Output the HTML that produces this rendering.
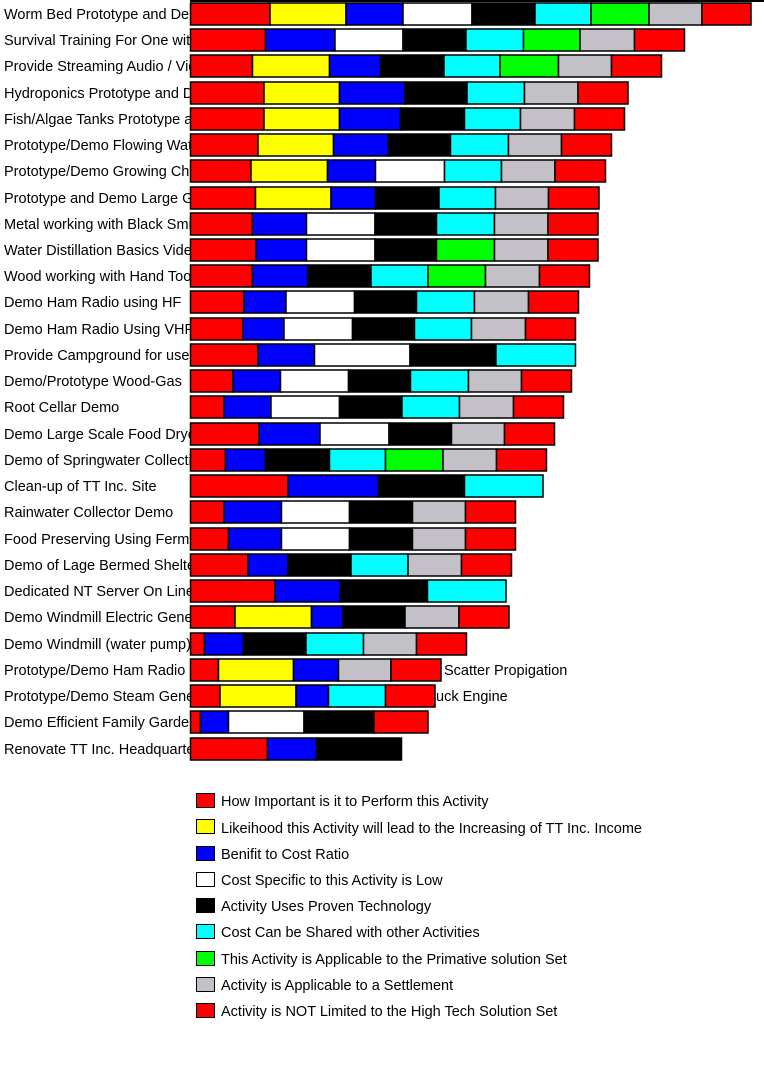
<!DOCTYPE html>
<html><head><meta charset="utf-8"><style>
html,body{margin:0;padding:0;background:#fff;}
svg{display:block;}
text{font-family:"Liberation Sans",Arial,sans-serif;font-size:14.5px;fill:#000;}
</style></head><body>
<svg width="764" height="1077" viewBox="0 0 764 1077" xmlns="http://www.w3.org/2000/svg">
<defs><clipPath id="lc"><rect x="0" y="0" width="192" height="770"/></clipPath></defs>
<rect x="190" y="0" width="574" height="2" fill="#000"/>
<g clip-path="url(#lc)">
<text x="4" y="19">Worm Bed Prototype and Demo</text>
<text x="4" y="45">Survival Training For One with</text>
<text x="4" y="71">Provide Streaming Audio / Video</text>
<text x="4" y="98">Hydroponics Prototype and Demo</text>
<text x="4" y="124">Fish/Algae Tanks Prototype and</text>
<text x="4" y="150">Prototype/Demo Flowing Water</text>
<text x="4" y="176">Prototype/Demo Growing Chamber</text>
<text x="4" y="203">Prototype and Demo Large Green</text>
<text x="4" y="229">Metal working with Black Smith</text>
<text x="4" y="255">Water Distillation Basics Video</text>
<text x="4" y="281">Wood working with Hand Tools</text>
<text x="4" y="307">Demo Ham Radio using HF</text>
<text x="4" y="334">Demo Ham Radio Using VHF</text>
<text x="4" y="360">Provide Campground for use</text>
<text x="4" y="386">Demo/Prototype Wood-Gas</text>
<text x="4" y="412">Root Cellar Demo</text>
<text x="4" y="439">Demo Large Scale Food Dryer</text>
<text x="4" y="465">Demo of Springwater Collection</text>
<text x="4" y="491">Clean-up of TT Inc. Site</text>
<text x="4" y="517">Rainwater Collector Demo</text>
<text x="4" y="544">Food Preserving Using Fermentation</text>
<text x="4" y="570">Demo of Lage Bermed Shelter</text>
<text x="4" y="596">Dedicated NT Server On Line</text>
<text x="4" y="622">Demo Windmill Electric Generator</text>
<text x="4" y="649">Demo Windmill (water pump)</text>
<text x="4" y="675">Prototype/Demo Ham Radio</text>
<text x="4" y="701">Prototype/Demo Steam Generator</text>
<text x="4" y="727">Demo Efficient Family Garden</text>
<text x="4" y="754">Renovate TT Inc. Headquarters</text>
</g>
<text x="444" y="675">Scatter Propigation</text>
<text x="436" y="701">uck Engine</text>
<g stroke="#000" stroke-width="1.5">
<g transform="translate(0,3)">
<rect x="190.5" y="0" width="79.5" height="22" fill="#f00"/><rect x="270" y="0" width="76" height="22" fill="#ff0"/><rect x="346" y="0" width="57" height="22" fill="#00f"/><rect x="403" y="0" width="69" height="22" fill="#fff"/><rect x="472" y="0" width="63" height="22" fill="#000"/><rect x="535" y="0" width="56" height="22" fill="#0ff"/><rect x="591" y="0" width="58" height="22" fill="#0f0"/><rect x="649" y="0" width="53" height="22" fill="#c4c0c8"/><rect x="702" y="0" width="49" height="22" fill="#f00"/></g>
<g transform="translate(0,29)">
<rect x="190.5" y="0" width="75" height="22" fill="#f00"/><rect x="265.5" y="0" width="69.5" height="22" fill="#00f"/><rect x="335" y="0" width="68" height="22" fill="#fff"/><rect x="403" y="0" width="63" height="22" fill="#000"/><rect x="466" y="0" width="57.5" height="22" fill="#0ff"/><rect x="523.5" y="0" width="56.5" height="22" fill="#0f0"/><rect x="580" y="0" width="54.5" height="22" fill="#c4c0c8"/><rect x="634.5" y="0" width="50" height="22" fill="#f00"/></g>
<g transform="translate(0,55)">
<rect x="190.5" y="0" width="62" height="22" fill="#f00"/><rect x="252.5" y="0" width="77" height="22" fill="#ff0"/><rect x="329.5" y="0" width="51" height="22" fill="#00f"/><rect x="380.5" y="0" width="63.5" height="22" fill="#000"/><rect x="444" y="0" width="56" height="22" fill="#0ff"/><rect x="500" y="0" width="58.5" height="22" fill="#0f0"/><rect x="558.5" y="0" width="53" height="22" fill="#c4c0c8"/><rect x="611.5" y="0" width="50" height="22" fill="#f00"/></g>
<g transform="translate(0,82)">
<rect x="190.5" y="0" width="73.5" height="22" fill="#f00"/><rect x="264" y="0" width="75.5" height="22" fill="#ff0"/><rect x="339.5" y="0" width="65.5" height="22" fill="#00f"/><rect x="405" y="0" width="62" height="22" fill="#000"/><rect x="467" y="0" width="57.5" height="22" fill="#0ff"/><rect x="524.5" y="0" width="53.5" height="22" fill="#c4c0c8"/><rect x="578" y="0" width="50" height="22" fill="#f00"/></g>
<g transform="translate(0,108)">
<rect x="190.5" y="0" width="73.5" height="22" fill="#f00"/><rect x="264" y="0" width="75.5" height="22" fill="#ff0"/><rect x="339.5" y="0" width="61" height="22" fill="#00f"/><rect x="400.5" y="0" width="64" height="22" fill="#000"/><rect x="464.5" y="0" width="56" height="22" fill="#0ff"/><rect x="520.5" y="0" width="54" height="22" fill="#c4c0c8"/><rect x="574.5" y="0" width="50" height="22" fill="#f00"/></g>
<g transform="translate(0,134)">
<rect x="190.5" y="0" width="67.5" height="22" fill="#f00"/><rect x="258" y="0" width="75.5" height="22" fill="#ff0"/><rect x="333.5" y="0" width="55" height="22" fill="#00f"/><rect x="388.5" y="0" width="62" height="22" fill="#000"/><rect x="450.5" y="0" width="58" height="22" fill="#0ff"/><rect x="508.5" y="0" width="53" height="22" fill="#c4c0c8"/><rect x="561.5" y="0" width="50" height="22" fill="#f00"/></g>
<g transform="translate(0,160)">
<rect x="190.5" y="0" width="60.5" height="22" fill="#f00"/><rect x="251" y="0" width="76.5" height="22" fill="#ff0"/><rect x="327.5" y="0" width="48" height="22" fill="#00f"/><rect x="375.5" y="0" width="69" height="22" fill="#fff"/><rect x="444.5" y="0" width="57" height="22" fill="#0ff"/><rect x="501.5" y="0" width="53.5" height="22" fill="#c4c0c8"/><rect x="555" y="0" width="50.5" height="22" fill="#f00"/></g>
<g transform="translate(0,187)">
<rect x="190.5" y="0" width="65" height="22" fill="#f00"/><rect x="255.5" y="0" width="75.5" height="22" fill="#ff0"/><rect x="331" y="0" width="44.5" height="22" fill="#00f"/><rect x="375.5" y="0" width="63.5" height="22" fill="#000"/><rect x="439" y="0" width="56.5" height="22" fill="#0ff"/><rect x="495.5" y="0" width="53" height="22" fill="#c4c0c8"/><rect x="548.5" y="0" width="50.5" height="22" fill="#f00"/></g>
<g transform="translate(0,213)">
<rect x="190.5" y="0" width="62" height="22" fill="#f00"/><rect x="252.5" y="0" width="54" height="22" fill="#00f"/><rect x="306.5" y="0" width="68.5" height="22" fill="#fff"/><rect x="375" y="0" width="61.5" height="22" fill="#000"/><rect x="436.5" y="0" width="58" height="22" fill="#0ff"/><rect x="494.5" y="0" width="53.5" height="22" fill="#c4c0c8"/><rect x="548" y="0" width="50" height="22" fill="#f00"/></g>
<g transform="translate(0,239)">
<rect x="190.5" y="0" width="65.5" height="22" fill="#f00"/><rect x="256" y="0" width="50.5" height="22" fill="#00f"/><rect x="306.5" y="0" width="68.5" height="22" fill="#fff"/><rect x="375" y="0" width="61.5" height="22" fill="#000"/><rect x="436.5" y="0" width="58" height="22" fill="#0f0"/><rect x="494.5" y="0" width="53.5" height="22" fill="#c4c0c8"/><rect x="548" y="0" width="50" height="22" fill="#f00"/></g>
<g transform="translate(0,265)">
<rect x="190.5" y="0" width="62" height="22" fill="#f00"/><rect x="252.5" y="0" width="55.5" height="22" fill="#00f"/><rect x="308" y="0" width="63" height="22" fill="#000"/><rect x="371" y="0" width="57" height="22" fill="#0ff"/><rect x="428" y="0" width="57.5" height="22" fill="#0f0"/><rect x="485.5" y="0" width="54" height="22" fill="#c4c0c8"/><rect x="539.5" y="0" width="50" height="22" fill="#f00"/></g>
<g transform="translate(0,291)">
<rect x="190.5" y="0" width="53.5" height="22" fill="#f00"/><rect x="244" y="0" width="42" height="22" fill="#00f"/><rect x="286" y="0" width="68.5" height="22" fill="#fff"/><rect x="354.5" y="0" width="62" height="22" fill="#000"/><rect x="416.5" y="0" width="58" height="22" fill="#0ff"/><rect x="474.5" y="0" width="54" height="22" fill="#c4c0c8"/><rect x="528.5" y="0" width="50" height="22" fill="#f00"/></g>
<g transform="translate(0,318)">
<rect x="190.5" y="0" width="52.5" height="22" fill="#f00"/><rect x="243" y="0" width="41" height="22" fill="#00f"/><rect x="284" y="0" width="68.5" height="22" fill="#fff"/><rect x="352.5" y="0" width="62" height="22" fill="#000"/><rect x="414.5" y="0" width="57" height="22" fill="#0ff"/><rect x="471.5" y="0" width="54" height="22" fill="#c4c0c8"/><rect x="525.5" y="0" width="50" height="22" fill="#f00"/></g>
<g transform="translate(0,344)">
<rect x="190.5" y="0" width="67.5" height="22" fill="#f00"/><rect x="258" y="0" width="56.5" height="22" fill="#00f"/><rect x="314.5" y="0" width="95.5" height="22" fill="#fff"/><rect x="410" y="0" width="86" height="22" fill="#000"/><rect x="496" y="0" width="79.5" height="22" fill="#0ff"/></g>
<g transform="translate(0,370)">
<rect x="190.5" y="0" width="42.5" height="22" fill="#f00"/><rect x="233" y="0" width="47.5" height="22" fill="#00f"/><rect x="280.5" y="0" width="68" height="22" fill="#fff"/><rect x="348.5" y="0" width="62" height="22" fill="#000"/><rect x="410.5" y="0" width="58" height="22" fill="#0ff"/><rect x="468.5" y="0" width="53" height="22" fill="#c4c0c8"/><rect x="521.5" y="0" width="50" height="22" fill="#f00"/></g>
<g transform="translate(0,396)">
<rect x="190.5" y="0" width="33.5" height="22" fill="#f00"/><rect x="224" y="0" width="47" height="22" fill="#00f"/><rect x="271" y="0" width="68.5" height="22" fill="#fff"/><rect x="339.5" y="0" width="62.5" height="22" fill="#000"/><rect x="402" y="0" width="57.5" height="22" fill="#0ff"/><rect x="459.5" y="0" width="54" height="22" fill="#c4c0c8"/><rect x="513.5" y="0" width="50" height="22" fill="#f00"/></g>
<g transform="translate(0,423)">
<rect x="190.5" y="0" width="68.5" height="22" fill="#f00"/><rect x="259" y="0" width="61" height="22" fill="#00f"/><rect x="320" y="0" width="69" height="22" fill="#fff"/><rect x="389" y="0" width="62.5" height="22" fill="#000"/><rect x="451.5" y="0" width="53" height="22" fill="#c4c0c8"/><rect x="504.5" y="0" width="50" height="22" fill="#f00"/></g>
<g transform="translate(0,449)">
<rect x="190.5" y="0" width="35" height="22" fill="#f00"/><rect x="225.5" y="0" width="40" height="22" fill="#00f"/><rect x="265.5" y="0" width="64" height="22" fill="#000"/><rect x="329.5" y="0" width="56" height="22" fill="#0ff"/><rect x="385.5" y="0" width="57.5" height="22" fill="#0f0"/><rect x="443" y="0" width="53.5" height="22" fill="#c4c0c8"/><rect x="496.5" y="0" width="50" height="22" fill="#f00"/></g>
<g transform="translate(0,475)">
<rect x="190.5" y="0" width="97.5" height="22" fill="#f00"/><rect x="288" y="0" width="90.5" height="22" fill="#00f"/><rect x="378.5" y="0" width="86" height="22" fill="#000"/><rect x="464.5" y="0" width="78.5" height="22" fill="#0ff"/></g>
<g transform="translate(0,501)">
<rect x="190.5" y="0" width="33.5" height="22" fill="#f00"/><rect x="224" y="0" width="57.5" height="22" fill="#00f"/><rect x="281.5" y="0" width="68" height="22" fill="#fff"/><rect x="349.5" y="0" width="63" height="22" fill="#000"/><rect x="412.5" y="0" width="53" height="22" fill="#c4c0c8"/><rect x="465.5" y="0" width="50" height="22" fill="#f00"/></g>
<g transform="translate(0,528)">
<rect x="190.5" y="0" width="38" height="22" fill="#f00"/><rect x="228.5" y="0" width="53" height="22" fill="#00f"/><rect x="281.5" y="0" width="68" height="22" fill="#fff"/><rect x="349.5" y="0" width="63" height="22" fill="#000"/><rect x="412.5" y="0" width="53" height="22" fill="#c4c0c8"/><rect x="465.5" y="0" width="50" height="22" fill="#f00"/></g>
<g transform="translate(0,554)">
<rect x="190.5" y="0" width="57.5" height="22" fill="#f00"/><rect x="248" y="0" width="40" height="22" fill="#00f"/><rect x="288" y="0" width="63" height="22" fill="#000"/><rect x="351" y="0" width="57" height="22" fill="#0ff"/><rect x="408" y="0" width="53.5" height="22" fill="#c4c0c8"/><rect x="461.5" y="0" width="50" height="22" fill="#f00"/></g>
<g transform="translate(0,580)">
<rect x="190.5" y="0" width="84.5" height="22" fill="#f00"/><rect x="275" y="0" width="65.5" height="22" fill="#00f"/><rect x="340.5" y="0" width="87" height="22" fill="#000"/><rect x="427.5" y="0" width="78.5" height="22" fill="#0ff"/></g>
<g transform="translate(0,606)">
<rect x="190.5" y="0" width="44.5" height="22" fill="#f00"/><rect x="235" y="0" width="76.5" height="22" fill="#ff0"/><rect x="311.5" y="0" width="31.5" height="22" fill="#00f"/><rect x="343" y="0" width="62" height="22" fill="#000"/><rect x="405" y="0" width="54" height="22" fill="#c4c0c8"/><rect x="459" y="0" width="50" height="22" fill="#f00"/></g>
<g transform="translate(0,633)">
<rect x="190.5" y="0" width="14" height="22" fill="#f00"/><rect x="204.5" y="0" width="39" height="22" fill="#00f"/><rect x="243.5" y="0" width="62.5" height="22" fill="#000"/><rect x="306" y="0" width="57.5" height="22" fill="#0ff"/><rect x="363.5" y="0" width="53" height="22" fill="#c4c0c8"/><rect x="416.5" y="0" width="50" height="22" fill="#f00"/></g>
<g transform="translate(0,659)">
<rect x="190.5" y="0" width="28" height="22" fill="#f00"/><rect x="218.5" y="0" width="75" height="22" fill="#ff0"/><rect x="293.5" y="0" width="45" height="22" fill="#00f"/><rect x="338.5" y="0" width="52.5" height="22" fill="#c4c0c8"/><rect x="391" y="0" width="50" height="22" fill="#f00"/></g>
<g transform="translate(0,685)">
<rect x="190.5" y="0" width="29.5" height="22" fill="#f00"/><rect x="220" y="0" width="76" height="22" fill="#ff0"/><rect x="296" y="0" width="32.5" height="22" fill="#00f"/><rect x="328.5" y="0" width="57" height="22" fill="#0ff"/><rect x="385.5" y="0" width="49.5" height="22" fill="#f00"/></g>
<g transform="translate(0,711)">
<rect x="190.5" y="0" width="10" height="22" fill="#f00"/><rect x="200.5" y="0" width="28" height="22" fill="#00f"/><rect x="228.5" y="0" width="75.5" height="22" fill="#fff"/><rect x="304" y="0" width="70" height="22" fill="#000"/><rect x="374" y="0" width="54" height="22" fill="#f00"/></g>
<g transform="translate(0,738)">
<rect x="190.5" y="0" width="77" height="22" fill="#f00"/><rect x="267.5" y="0" width="49" height="22" fill="#00f"/><rect x="316.5" y="0" width="85" height="22" fill="#000"/></g>
</g>
<g stroke="#000" stroke-width="1">
<rect x="196.5" y="793.5" width="18" height="14" fill="#f00"/>
<rect x="196.5" y="819.5" width="18" height="14" fill="#ff0"/>
<rect x="196.5" y="846.5" width="18" height="14" fill="#00f"/>
<rect x="196.5" y="872.5" width="18" height="14" fill="#fff"/>
<rect x="196.5" y="898.5" width="18" height="14" fill="#000"/>
<rect x="196.5" y="924.5" width="18" height="14" fill="#0ff"/>
<rect x="196.5" y="951.5" width="18" height="14" fill="#0f0"/>
<rect x="196.5" y="977.5" width="18" height="14" fill="#c4c0c8"/>
<rect x="196.5" y="1003.5" width="18" height="14" fill="#f00"/>
</g>
<text x="221" y="806">How Important is it to Perform this Activity</text>
<text x="221" y="833">Likeihood this Activity will lead to the Increasing of TT Inc. Income</text>
<text x="221" y="859">Benifit  to Cost Ratio</text>
<text x="221" y="885">Cost Specific to this Activity is Low</text>
<text x="221" y="911">Activity Uses Proven Technology</text>
<text x="221" y="937">Cost Can be Shared with other Activities</text>
<text x="221" y="964">This Activity is Applicable to the Primative solution Set</text>
<text x="221" y="990">Activity is Applicable to a Settlement</text>
<text x="221" y="1016">Activity is NOT Limited to the High Tech Solution Set</text>
</svg>
</body></html>
